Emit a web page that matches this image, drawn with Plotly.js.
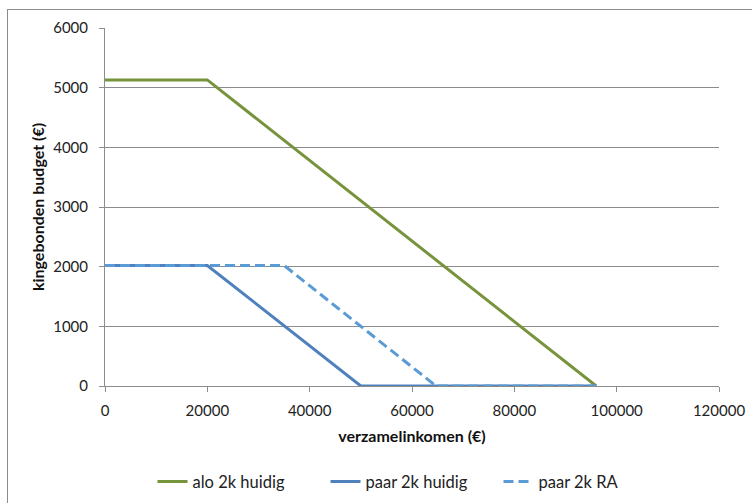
<!DOCTYPE html>
<html>
<head>
<meta charset="utf-8">
<script src="https://cdn.plot.ly/plotly-3.0.1.min.js"></script>
<style>
  html, body { margin: 0; padding: 0; background: #fff; }
  #wrap { position: relative; width: 752px; height: 503px; overflow: hidden; }
  #frame { position: absolute; left: 7px; top: 9px; width: 800px; height: 600px;
           border-left: 1px solid #8c8c8c; border-top: 1px solid #8c8c8c; box-sizing: border-box; pointer-events: none; }
  #chart { position: absolute; left: 0; top: 0; width: 752px; height: 503px; }
</style>
</head>
<body>
<div id="wrap">
  <div id="chart"></div>
  <div id="frame"></div>
</div>
<script>
const seriesNames = ["alo 2k huidig", "paar 2k huidig", "paar 2k RA"];
const aloX = [0, 20000, 96000];
const aloY = [5130, 5130, 0];
const paarX = [0, 20000, 50000, 96000];
const paarY = [2020, 2020, 0, 0];
const raX = [0, 35000, 64700, 96000];
const raY = [2020, 2020, 0, 0];
const xTicks = [0, 20000, 40000, 60000, 80000, 100000, 120000];
const yTicks = [0, 1000, 2000, 3000, 4000, 5000, 6000];

const font = "Lato, 'Open Sans', sans-serif";
const traces = [
  { x: aloX, y: aloY, name: seriesNames[0], mode: "lines", line: { color: "#77933C", width: 3 } },
  { x: paarX, y: paarY, name: seriesNames[1], mode: "lines", line: { color: "#4F81BD", width: 3 } },
  { x: raX, y: raY, name: seriesNames[2], mode: "lines", line: { color: "#5B9BD5", width: 3, dash: "10px,5px" } }
];
const layout = {
  width: 752, height: 503,
  margin: { l: 104.5, r: 33, t: 28, b: 117 },
  paper_bgcolor: "#fff", plot_bgcolor: "#fff",
  font: { family: font, size: 15, color: "#222" },
  showlegend: true,
  legend: { orientation: "h", xref: "container", yref: "container", x: 0.2028, xanchor: "left", y: 0.0423, yanchor: "middle",
            font: { family: font, size: 16.5, color: "#222" }, entrywidth: 128, traceorder: "normal" },
  xaxis: {
    range: [0, 120000], tickvals: xTicks, ticktext: xTicks.map(String),
    showgrid: false, zeroline: false, showline: true, linecolor: "#8c8c8c", linewidth: 1,
    ticks: "outside", ticklen: 5, tickcolor: "#8c8c8c", ticklabelstandoff: 6,
    tickfont: { family: font, size: 15, color: "#222" },
    title: { text: "<b>verzamelinkomen (€)</b>", font: { family: font, size: 16, color: "#111" }, standoff: 12 }
  },
  yaxis: {
    range: [0, 6000], tickvals: yTicks, ticktext: yTicks.map(String),
    showgrid: true, gridcolor: "#8c8c8c", gridwidth: 1, zeroline: false,
    showline: true, linecolor: "#8c8c8c", linewidth: 1,
    ticks: "outside", ticklen: 5, tickcolor: "#8c8c8c", ticklabelstandoff: 8,
    tickfont: { family: font, size: 15, color: "#222" },
    title: { text: "<b>kingebonden budget (€)</b>", font: { family: font, size: 16, color: "#111" }, standoff: 4 }
  }
};
Plotly.newPlot("chart", traces, layout, { displayModeBar: false, staticPlot: true });
</script>
</body>
</html>
